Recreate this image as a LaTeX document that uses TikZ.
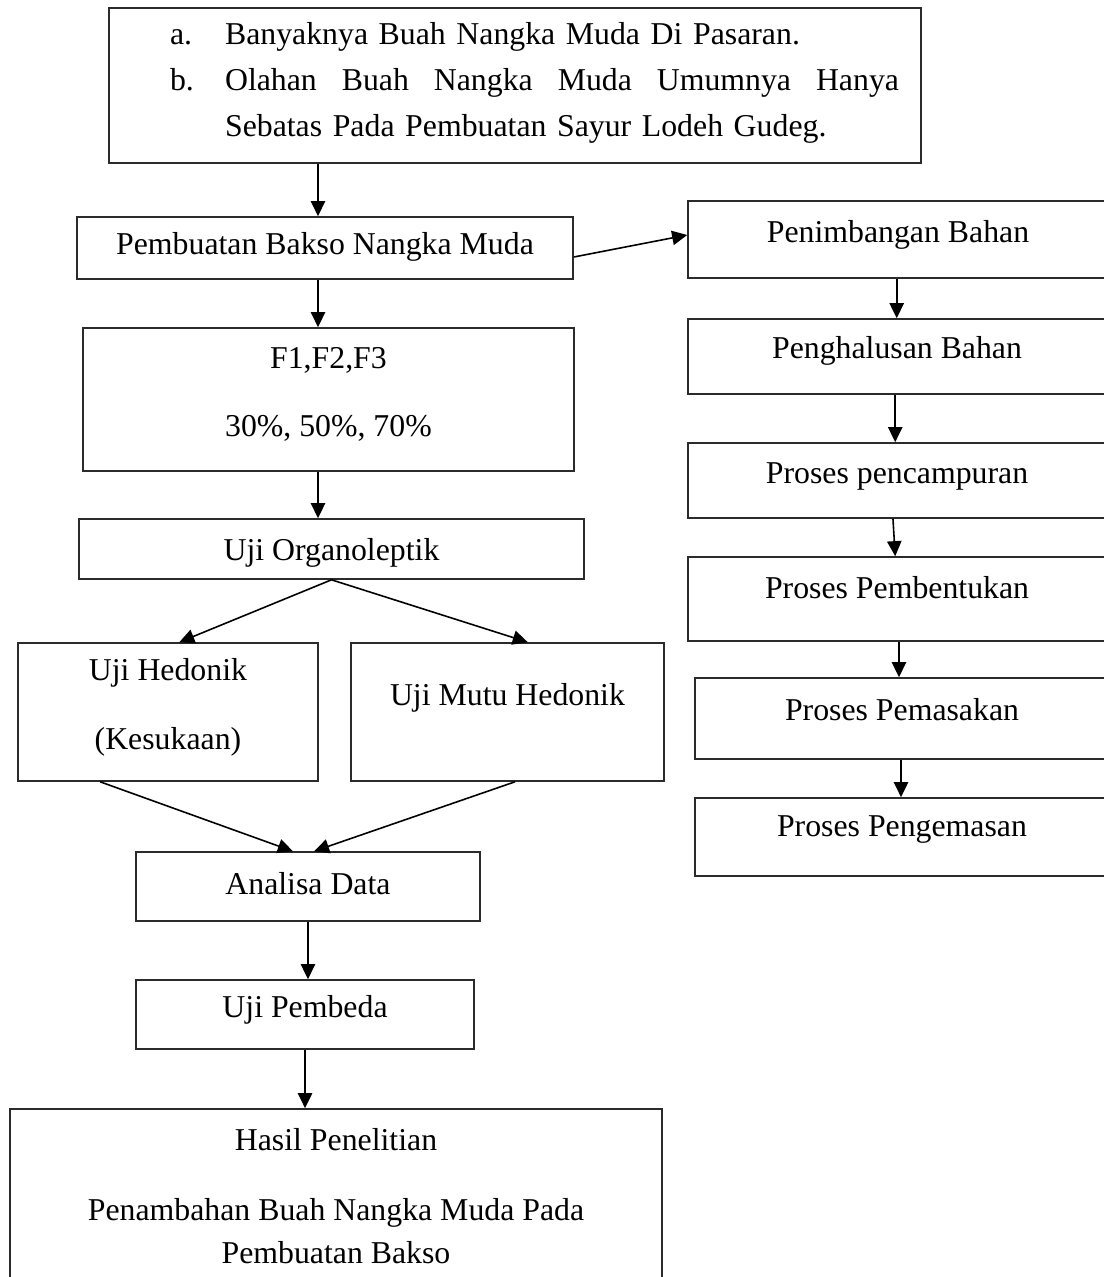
\documentclass[tikz,border=0pt]{standalone}
\usepackage{fontspec}
\setmainfont{Liberation Serif}
\definecolor{framegray}{HTML}{2B2B2B}
\usetikzlibrary{arrows.meta}

\begin{document}
\begin{tikzpicture}[
    box/.style={
      rectangle, draw=framegray, line width=0.6pt, inner sep=0pt
    },
    txt/.style={font=\fontsize{12pt}{14pt}\selectfont, align=center, inner sep=0pt},
    arr/.style={-{Triangle[length=0.2cm, width=0.19cm]}, line width=0.6pt}
  ]
    \useasboundingbox (0,0) rectangle (14.643,-16.938);
    \coordinate (spine) at (4.218,0);

    % left column
    \node[box, minimum width=10.770cm, minimum height=2.056cm] (top)      at (6.831,-1.134)  {};
    \node[box, minimum width=6.579cm,  minimum height=0.822cm] (pemb)     at (4.311,-3.289)  {};
    \node[box, minimum width=6.513cm,  minimum height=1.897cm] (formula)  at (4.357,-5.299)  {};
    \node[box, minimum width=6.698cm,  minimum height=0.796cm] (organo)   at (4.397,-7.282)  {};
    \node[box, minimum width=3.979cm,  minimum height=1.830cm] (hedonik)  at (2.228,-9.444)  {};
    \node[box, minimum width=4.152cm,  minimum height=1.830cm] (mutu)     at (6.731,-9.444)  {};
    \node[box, minimum width=4.563cm,  minimum height=0.915cm] (analisa)  at (4.085,-11.759) {};
    \node[box, minimum width=4.483cm,  minimum height=0.915cm] (pembeda)  at (4.046,-13.456) {};
    \node[box, minimum width=8.648cm,  minimum height=2.533cm] (hasil)    at (4.457,-15.976) {};

    % right column
    \node[box, minimum width=5.597cm, minimum height=1.021cm] (timbang) at (11.924,-3.177)  {};
    \node[box, minimum width=5.597cm, minimum height=0.995cm] (halus)   at (11.924,-4.729)  {};
    \node[box, minimum width=5.597cm, minimum height=0.995cm] (campur)  at (11.924,-6.373)  {};
    \node[box, minimum width=5.597cm, minimum height=1.114cm] (bentuk)  at (11.924,-7.945)  {};
    \node[box, minimum width=5.505cm, minimum height=1.074cm] (masak)   at (11.971,-9.530)  {};
    \node[box, minimum width=5.505cm, minimum height=1.035cm] (kemas)   at (11.971,-11.102) {};

    % texts
    \node[txt, text width=9.669cm, align=left, font=\fontsize{12pt}{17.3pt}\selectfont]
      (top-t) at (7.090,-1.101)
      {\makebox[0.73cm][l]{a.}Banyaknya Buah Nangka Muda Di Pasaran.\\
       \makebox[0.73cm][l]{b.}\makebox[8.939cm][s]{Olahan\hfill Buah\hfill Nangka\hfill Muda\hfill Umumnya\hfill Hanya}\\
       \hspace*{0.73cm}Sebatas Pada Pembuatan Sayur Lodeh Gudeg.};
    \node[txt] (pemb-t)    at (4.311,-3.276)  {Pembuatan Bakso Nangka Muda};
    \node[txt, font=\fontsize{12pt}{25.7pt}\selectfont] (formula-t) at (4.357,-5.226) {F1,F2,F3\\30\%, 50\%, 70\%};
    \node[txt] (organo-t)  at (4.397,-7.335)  {Uji Organoleptik};
    \node[txt, font=\fontsize{12pt}{26pt}\selectfont] (hedonik-t) at (2.228,-9.384) {Uji Hedonik\\(Kesukaan)};
    \node[txt] (mutu-t)    at (6.731,-9.258)  {Uji Mutu Hedonik};
    \node[txt] (analisa-t) at (4.085,-11.725) {Analisa Data};
    \node[txt] (pembeda-t) at (4.046,-13.397) {Uji Pembeda};
    \node[txt, font=\fontsize{12pt}{16.2pt}\selectfont] (hasil-t) at (4.457,-15.870)
      {Hasil Penelitian\\[10.2pt]Penambahan Buah Nangka Muda Pada\\Pembuatan Bakso};

    \node[txt] (timbang-t) at (11.911,-3.120)  {Penimbangan Bahan};
    \node[txt] (halus-t)   at (11.898,-4.660)  {Penghalusan Bahan};
    \node[txt] (campur-t)  at (11.898,-6.320)  {Proses pencampuran};
    \node[txt] (bentuk-t)  at (11.898,-7.800)  {Proses Pembentukan};
    \node[txt] (masak-t)   at (11.964,-9.410)  {Proses Pemasakan};
    \node[txt] (kemas-t)   at (11.964,-11.000) {Proses Pengemasan};

    % arrows
    \draw[arr] (top.south -| spine) -- (pemb.north -| spine);
    \draw[arr] ([yshift=-0.12cm]pemb.east) -- ([yshift=0.06cm]timbang.west);
    \draw[arr] (pemb.south -| spine) -- (formula.north -| spine);
    \draw[arr] (formula.south -| spine) -- (organo.north -| spine);
    \draw[arr] (organo.south) -- ([xshift=0.15cm]hedonik.north);
    \draw[arr] (organo.south) -- ([xshift=0.27cm]mutu.north);
    \draw[arr] ([xshift=-0.9cm]hedonik.south) -- ([xshift=-0.2cm]analisa.north);
    \draw[arr] ([xshift=0.1cm]mutu.south) -- ([xshift=0.08cm]analisa.north);
    \draw[arr] (analisa.south) -- (analisa.south |- pembeda.north);
    \draw[arr] (pembeda.south) -- (pembeda.south |- hasil.north);

    \draw[arr] ([xshift=-0.03cm]timbang.south) -- ([xshift=-0.03cm]halus.north);
    \draw[arr] ([xshift=-0.05cm]halus.south) -- ([xshift=-0.05cm]campur.north);
    \draw[arr] ([xshift=-0.08cm]campur.south) -- ([xshift=-0.05cm]bentuk.north);
    \draw[arr] (bentuk.south) -- (bentuk.south |- masak.north);
    \draw[arr] ([xshift=-0.02cm]masak.south) -- ([xshift=-0.02cm]kemas.north);
  \end{tikzpicture}
\end{document}
